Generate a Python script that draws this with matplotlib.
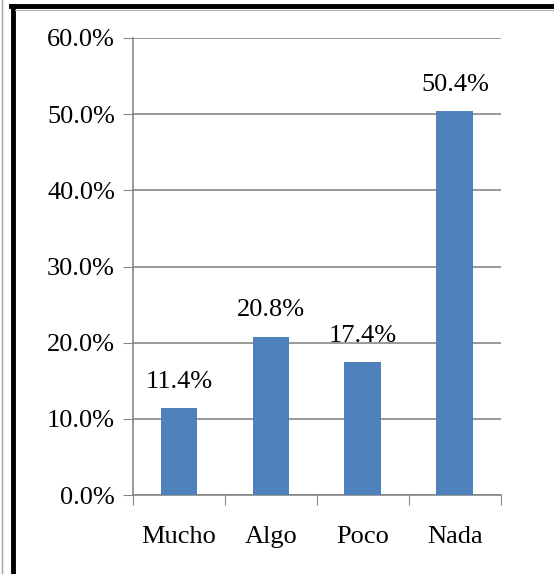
import matplotlib.pyplot as plt
from matplotlib.lines import Line2D

categories = ['Mucho', 'Algo', 'Poco', 'Nada']
values = [11.4, 20.8, 17.4, 50.4]
yticks = [0, 10, 20, 30, 40, 50, 60]

plt.rcParams['font.family'] = ['Liberation Serif', 'DejaVu Serif']

fig = plt.figure(figsize=(5.54, 5.74), dpi=100)
ax = fig.add_axes([0.240, 0.1376, 0.664, 0.7962])

x = range(len(categories))
bars = ax.bar(x, values, width=0.4, color='#4F81BD', zorder=3)
for b, v in zip(bars, values):
    ax.text(b.get_x() + b.get_width() / 2, v + 2.0, f'{v:.1f}%',
            ha='center', va='bottom', fontsize=19)

ax.set_xlim(-0.5, len(categories) - 0.5)
ax.set_ylim(0, 60)
ax.set_yticks(yticks)
ax.set_yticklabels([f'{t:.1f}%' for t in yticks], fontsize=19)
ax.set_xticks([i - 0.5 for i in range(len(categories) + 1)], minor=False)
ax.set_xticklabels([])
ax.set_xticks(list(x), minor=True)
ax.set_xticklabels(categories, minor=True, fontsize=19)
ax.tick_params(axis='x', which='minor', length=0, pad=22)
ax.tick_params(axis='x', which='major', length=7, color='#878787', direction='out')
ax.tick_params(axis='y', length=7, color='#878787', pad=6)
ax.grid(axis='y', color='#878787', linewidth=1.2, zorder=0)
for s in ['top', 'right']:
    ax.spines[s].set_visible(False)
for s in ['left', 'bottom']:
    ax.spines[s].set_color('#878787')
    ax.spines[s].set_linewidth(1.2)

# outer frame
fig.add_artist(Line2D([13 / 554, 13 / 554], [0, 1 - 6 / 574], color='black', linewidth=3.5,
                      transform=fig.transFigure))
fig.add_artist(Line2D([11 / 554, 1], [1 - 6 / 574, 1 - 6 / 574], color='black', linewidth=3.5,
                      transform=fig.transFigure))
fig.add_artist(Line2D([15 / 554, 1], [1 - 9.5 / 574, 1 - 9.5 / 574], color='#b0b0b0', linewidth=0.8,
                      transform=fig.transFigure))
fig.add_artist(Line2D([2 / 554, 2 / 554], [0, 1], color='#a0a0a0', linewidth=1,
                      transform=fig.transFigure))

fig.savefig('out.png', dpi=100)
